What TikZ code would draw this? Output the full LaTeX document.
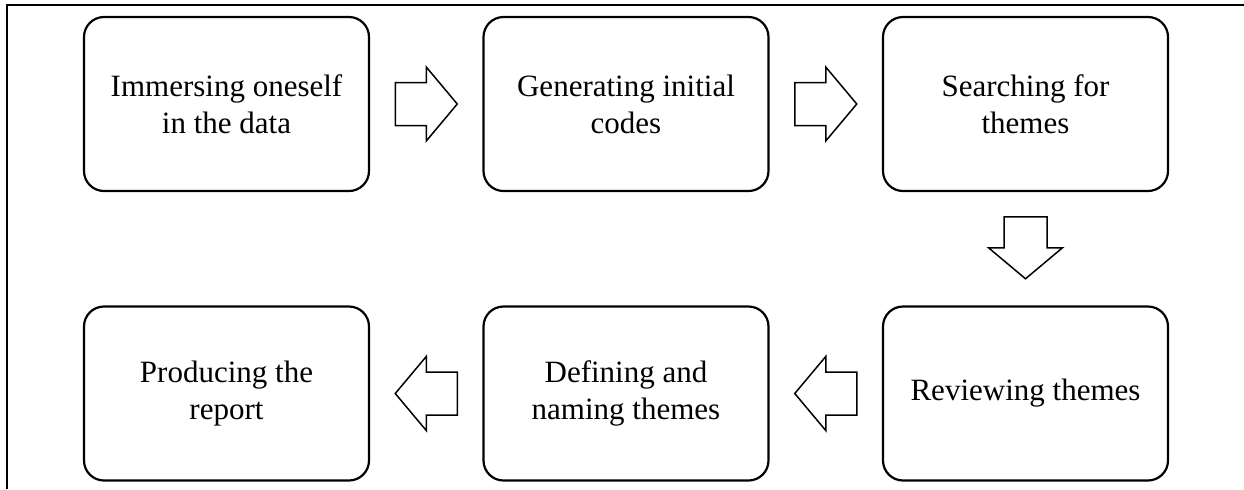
\documentclass[tikz,border=0pt]{standalone}
\usepackage{fontspec}
\setmainfont{Liberation Serif}
\usetikzlibrary{calc}

\tikzset{
  stage/.style={draw, line width=1.1pt, rounded corners=10pt,
    minimum width=142.5pt, minimum height=87pt, align=center,
    inner sep=0pt, font=\fontsize{15.5pt}{18.5pt}\selectfont},
  blockarrow/.style={draw, line width=0.75pt, fill=white, line join=miter},
  frameline/.style={draw, line width=1pt}
}

% block arrow centred on the origin, pointing along +x
\newcommand{\blockarrowpath}{(-31,-21.5) -- (0,-21.5) -- (0,-37) -- (31,0) -- (0,37) -- (0,21.5) -- (-31,21.5) -- cycle}

\begin{document}
\begin{tikzpicture}[x=0.5pt, y=-0.5pt]
  \useasboundingbox (0,0) rectangle (1244,489);

  % open frame: left and top edges
  \coordinate (fbl) at (7,489);
  \coordinate (ftl) at (7,5);
  \coordinate (ftr) at (1244,5);
  \draw[frameline] (fbl) -- (ftl) -- (ftr);

  % stages, top row left to right
  \node[stage] (s1) at (226.5,104) {Immersing oneself\\in the data};
  \node[stage] (s2) at (626,104) {Generating initial\\codes};
  \node[stage] (s3) at (1025.5,104) {Searching for\\themes};
  % bottom row, right to left
  \node[stage] (s4) at (1025.5,393.5) {Reviewing themes};
  \node[stage] (s5) at (626,393.5) {Defining and\\naming themes};
  \node[stage] (s6) at (226.5,393.5) {Producing the\\report};

  % gap centres between consecutive stages
  \coordinate (g12) at ($(s1.east)!0.5!(s2.west)$);
  \coordinate (g23) at ($(s2.east)!0.5!(s3.west)$);
  \coordinate (g34) at ($(s3.south)!0.5!(s4.north)+(0,-1)$);
  \coordinate (g45) at ($(s4.west)!0.5!(s5.east)$);
  \coordinate (g56) at ($(s5.west)!0.5!(s6.east)$);

  \draw[blockarrow, shift={(g12)}] \blockarrowpath;
  \draw[blockarrow, shift={(g23)}] \blockarrowpath;
  \draw[blockarrow, shift={(g34)}, rotate=-90] \blockarrowpath;
  \draw[blockarrow, shift={(g45)}, rotate=180] \blockarrowpath;
  \draw[blockarrow, shift={(g56)}, rotate=180] \blockarrowpath;
\end{tikzpicture}
\end{document}
